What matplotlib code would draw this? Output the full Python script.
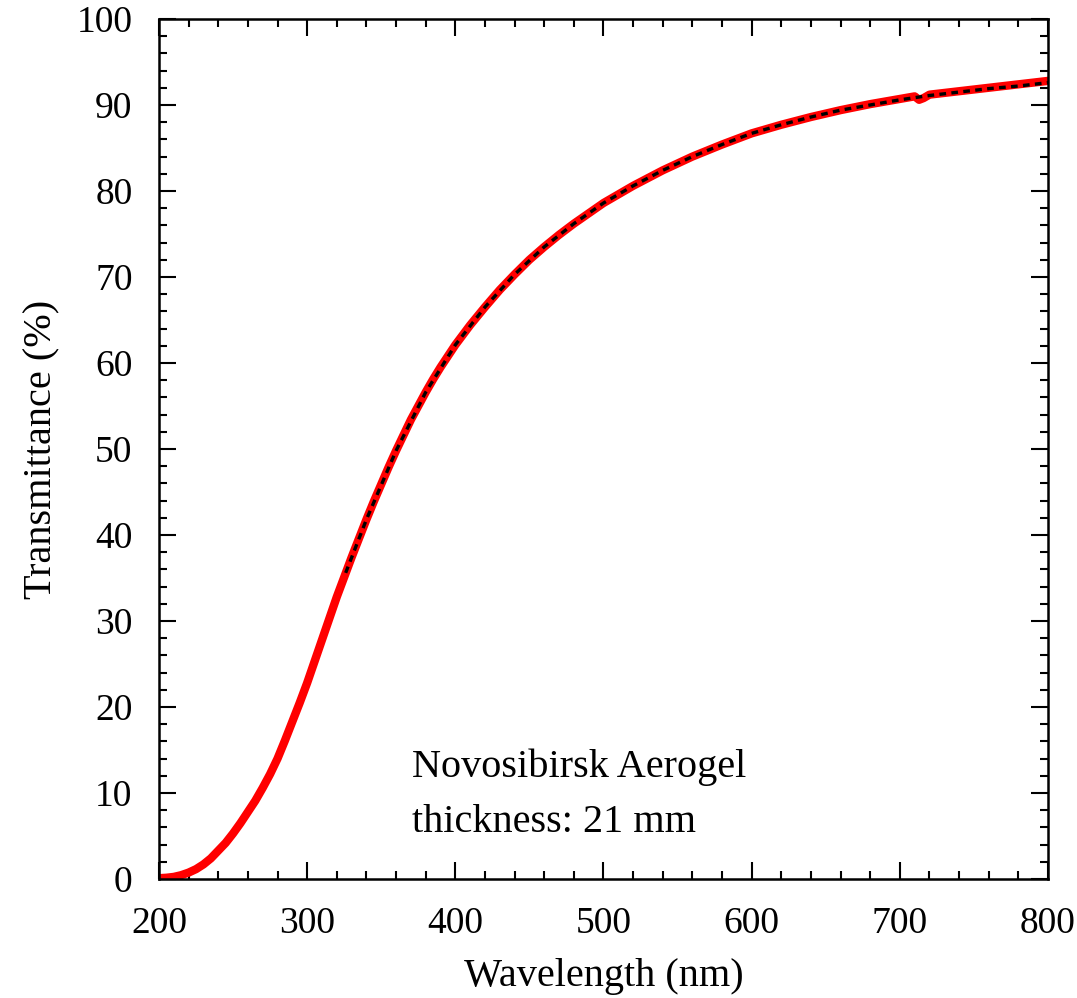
import numpy as np
import matplotlib
matplotlib.use('Agg')
import matplotlib.pyplot as plt
from matplotlib.ticker import MultipleLocator

plt.rcParams['font.family'] = ['Liberation Serif', 'DejaVu Serif']

# measured transmittance (red)
wavelength = [200, 205, 210, 215, 220, 225, 230, 235, 240, 245, 250, 255, 260, 265,
              270, 275, 280, 285, 290, 295, 300, 305, 310, 315, 320, 325, 330, 335,
              340, 345, 350, 355, 360, 365, 370, 375, 380, 385, 390, 395, 400,
              410, 420, 430, 440, 450, 460, 470, 480, 490, 500, 520, 540,
              560, 580, 600, 620, 640, 660, 680, 700, 710, 713, 716, 720, 740, 760,
              780, 800]
transmittance = [0.1, 0.15, 0.25, 0.45, 0.75, 1.15, 1.7, 2.4, 3.3, 4.2, 5.3, 6.5, 7.8, 9.1,
                 10.6, 12.2, 14.0, 16.1, 18.3, 20.5, 22.8, 25.3, 27.8, 30.3, 32.8, 35.1, 37.4, 39.6,
                 41.8, 43.9, 45.9, 47.9, 49.8, 51.6, 53.4, 55.0, 56.6, 58.1, 59.5, 60.8, 62.1,
                 64.4, 66.5, 68.5, 70.3, 72.0, 73.5, 74.9, 76.2, 77.4, 78.6, 80.6, 82.4,
                 84.0, 85.4, 86.7, 87.7, 88.6, 89.4, 90.1, 90.7, 91.0, 90.6, 90.8, 91.2, 91.6, 92.0,
                 92.4, 92.8]

# fit (black dotted)
fit_wavelength = [326, 340, 360, 380, 400, 420, 440, 460, 480, 500, 520, 540, 560, 580,
                  600, 620, 640, 660, 680, 700, 720, 740, 760, 780, 800]
fit_transmittance = [35.6, 41.8, 49.8, 56.6, 62.1, 66.5, 70.3, 73.5, 76.2, 78.6, 80.6, 82.4, 84.0, 85.4,
                     86.7, 87.7, 88.6, 89.4, 90.0, 90.6, 91.1, 91.5, 91.9, 92.2, 92.6]

fig = plt.figure(figsize=(10.77, 9.98), dpi=100)
ax = fig.add_axes([0.1476, 0.1192, 0.8255, 0.8618])

ax.plot(wavelength, transmittance, color='#ff0000', lw=6, solid_capstyle='round',
        solid_joinstyle='round', zorder=2)
ax.plot(fit_wavelength, fit_transmittance, color='black', lw=2.4, linestyle=(0, (2, 1.6)), zorder=3)

ax.set_xlim(200, 800)
ax.set_ylim(0, 100)
ax.xaxis.set_major_locator(MultipleLocator(100))
ax.xaxis.set_minor_locator(MultipleLocator(20))
ax.yaxis.set_major_locator(MultipleLocator(10))
ax.yaxis.set_minor_locator(MultipleLocator(2))
ax.tick_params(which='both', direction='in', top=True, right=True, width=1.5, labelsize=27)
ax.tick_params(which='major', length=12)
ax.tick_params(which='minor', length=6)
ax.tick_params(axis='x', which='major', pad=20)
ax.tick_params(axis='y', which='major', pad=19)
for s in ax.spines.values():
    s.set_linewidth(1.8)

ax.set_xlabel('Wavelength (nm)', fontsize=29, labelpad=12)
ax.set_ylabel('Transmittance (%)', fontsize=29, labelpad=12)

ax.text(371, 13.0, 'Novosibirsk Aerogel', fontsize=29, va='center', ha='left')
ax.text(371, 6.6, 'thickness: 21 mm', fontsize=29, va='center', ha='left')

fig.savefig('out.png', dpi=100)
